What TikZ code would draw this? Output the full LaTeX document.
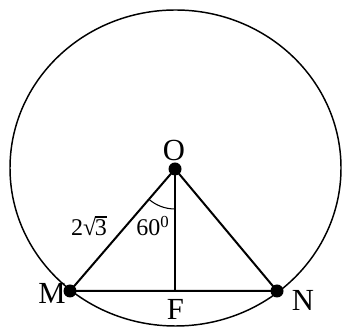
\documentclass[tikz,border=0pt]{standalone}
\usepackage{fontspec}
\setmainfont{Liberation Serif}
\usetikzlibrary{positioning}

\begin{document}
\begin{tikzpicture}[x=0.75pt,y=0.75pt]
        \useasboundingbox (0,0) rectangle (342,327);
        \coordinate (O) at (175,158);
        \coordinate (M) at (70,36);
        \coordinate (N) at (277,36);
        \coordinate (F) at (175,36);
        \draw[line width=1.1pt] (175.5,159) ellipse [x radius=165.5, y radius=158];
        \draw[line width=1.5pt] (M) -- (O) -- (N) -- (M);
        \draw[line width=1.5pt] (O) -- (F);
        \draw[line width=0.8pt] (O) ++(229.3:40) arc[start angle=229.3, end angle=270, radius=40];
        \foreach \p in {O,M,N} {
            \fill (\p) circle (6.5);
        }
        \node[font=\fontsize{23}{26}\selectfont] (lblO) at (174,176) {O};
        \node[font=\fontsize{23}{26}\selectfont] (lblM) at (52,34) {M};
        \node[font=\fontsize{23}{26}\selectfont] (lblN) at (303,27) {N};
        \node[font=\fontsize{23}{26}\selectfont] (lblF) at (175.5,18) {F};
        \node[font=\fontsize{18}{21}\selectfont] (side) at (89,101) {2√\kern-0.06em\rlap{\rule[0.74em]{0.5em}{0.05em}}3};
        \node[font=\fontsize{18}{21}\selectfont] (ang) at (153,101) {60\textsuperscript{0}};
    \end{tikzpicture}
\end{document}
